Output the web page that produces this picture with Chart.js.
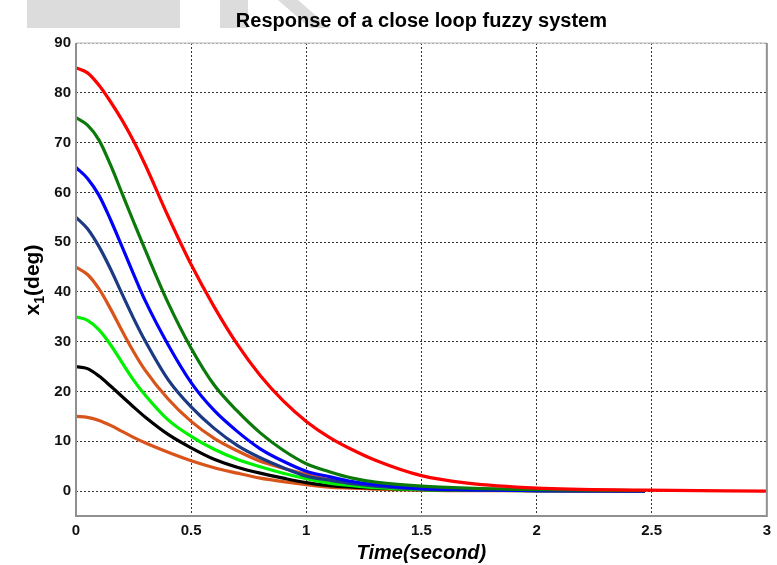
<!DOCTYPE html>
<html>
<head>
<meta charset="utf-8">
<script src="https://cdn.jsdelivr.net/npm/chart.js@4.4.0/dist/chart.umd.min.js"></script>
<style>
  html, body { margin: 0; padding: 0; background: #fff; }
  #wrap { width: 777px; height: 565px; position: relative; }
</style>
</head>
<body>
<div id="wrap"><canvas id="chart" width="777" height="565"></canvas></div>
<script>
// Closed loop fuzzy response - x1 vs time, one curve per initial angle

const timeSec = [0, 0.05, 0.1, 0.15, 0.2, 0.25, 0.3, 0.4, 0.5, 0.6, 0.7, 0.8, 0.9, 1.0, 1.1, 1.2, 1.3, 1.5, 1.7, 2.0, 2.47, 3.0];

const x1From85 = [85, 84, 81.5, 78.2, 74.5, 70.3, 65.6, 55.2, 45.5, 37, 29.5, 23.2, 18.1, 14, 10.8, 8.3, 6.2, 3.1, 1.6, 0.6, 0.2, 0];
const x1From75 = [75, 73.5, 70.5, 65.5, 59.8, 54.1, 48.5, 37.8, 28.7, 21.3, 16.1, 11.7, 8.2, 5.5, 3.9, 2.6, 1.8, 1, 0.6, 0.3, 0.1, null];
const x1From65 = [65, 62.8, 59.4, 54.5, 49.1, 43.6, 38.3, 29.4, 21.8, 16.2, 12, 8.5, 6, 4, 2.9, 1.9, 1.3, 0.5, 0.3, 0.1, 0, null];
const x1From55 = [55, 52.7, 49.1, 44.6, 39.6, 34.7, 30.2, 22.4, 16.9, 12.6, 9.2, 6.7, 4.7, 3, 2.2, 1.5, 1, 0.4, 0.2, 0.1, 0, null];
const x1From45 = [45, 43.5, 40.6, 36.6, 32.2, 28, 24.3, 18.5, 14, 10.6, 8.1, 6, 4.6, 3.4, 2.3, 1.6, 1.1, 0.5, 0.3, 0.1, 0, null];
const x1From35 = [35, 34.3, 32.4, 29.4, 25.8, 22.3, 19.3, 14.3, 11, 8.4, 6.4, 4.9, 3.6, 2.5, 1.6, 1.1, 0.7, 0.3, 0.2, 0.1, 0, null];
const x1From25 = [25, 24.6, 23.1, 21.1, 19, 16.9, 14.9, 11.4, 8.7, 6.4, 4.8, 3.6, 2.6, 1.7, 1.1, 0.8, 0.6, 0.3, 0.2, 0.1, 0, null];
const x1From15 = [15, 14.8, 14.2, 13.2, 12, 10.8, 9.7, 7.8, 6.1, 4.7, 3.6, 2.6, 1.9, 1.3, 0.8, 0.6, 0.4, 0.2, 0.1, 0.1, 0, null];

const seriesValues = [x1From85, x1From75, x1From65, x1From55, x1From45, x1From35, x1From25, x1From15];
const seriesColors = ['#ff0000', '#0b7a0b', '#0000ff', '#1c3a84', '#d9541a', '#00f000', '#000000', '#d9541a'];

const xTicks = [0, 0.5, 1, 1.5, 2, 2.5, 3];
const yTicks = [0, 10, 20, 30, 40, 50, 60, 70, 80, 90];

const titleText = 'Response of a close loop fuzzy system';
const xLabelText = 'Time(second)';

const AREA = { left: 76, right: 770, top: 43, bottom: 516 };

const datasets = seriesValues.map((vals, i) => ({
    data: vals.map((v, k) => ({ x: timeSec[k], y: v })),
    borderColor: seriesColors[i],
    borderWidth: 3.2,
    pointRadius: 0,
    fill: false,
    cubicInterpolationMode: 'monotone',
    spanGaps: false
}));

// Background watermark, frame, title and axis labels
const decorPlugin = {
    id: 'decor',
    beforeDraw(chart) {
        const ctx = chart.ctx;
        ctx.save();
        ctx.fillStyle = '#fff';
        ctx.fillRect(0, 0, chart.width, chart.height);
        ctx.fillStyle = '#dcdcdc';
        ctx.fillRect(27, 0, 153, 28);
        ctx.fillRect(220, 0, 28, 28);
        ctx.beginPath();
        ctx.moveTo(278, 0);
        ctx.lineTo(298, 0);
        ctx.lineTo(330, 28);
        ctx.lineTo(310, 28);
        ctx.closePath();
        ctx.fill();
        ctx.restore();
    },
    afterDraw(chart) {
        const ctx = chart.ctx;
        const a = chart.chartArea;
        ctx.save();
        // frame
        ctx.strokeStyle = '#d0d0d0';
        ctx.lineWidth = 1.5;
        ctx.beginPath();
        ctx.moveTo(a.left, a.top);
        ctx.lineTo(a.right, a.top);
        ctx.stroke();
        ctx.strokeStyle = '#909090';
        ctx.lineWidth = 2;
        ctx.beginPath();
        ctx.moveTo(a.right, a.top);
        ctx.lineTo(a.right, a.bottom);
        ctx.lineTo(a.left, a.bottom);
        ctx.lineTo(a.left, a.top);
        ctx.stroke();

        ctx.fillStyle = '#000';
        // title
        ctx.font = 'bold 20px "Liberation Sans", Arial, sans-serif';
        ctx.textAlign = 'center';
        ctx.textBaseline = 'alphabetic';
        ctx.fillText(titleText, (a.left + a.right) / 2, 27);

        // x label
        ctx.font = 'italic bold 20px "Liberation Sans", Arial, sans-serif';
        ctx.fillText(xLabelText, (a.left + a.right) / 2, 559);

        // y label with subscript
        ctx.translate(32, 280);
        ctx.rotate(-Math.PI / 2);
        const big = 'bold 21px "Liberation Sans", Arial, sans-serif';
        const small = 'bold 14px "Liberation Sans", Arial, sans-serif';
        ctx.textAlign = 'left';
        ctx.textBaseline = 'alphabetic';
        ctx.font = big;
        const wX = ctx.measureText('x').width;
        const wRest = ctx.measureText('(deg)').width;
        ctx.font = small;
        const w1 = ctx.measureText('1').width;
        let x0 = -(wX + w1 + wRest) / 2;
        const base = 7;
        ctx.font = big;
        ctx.fillText('x', x0, base);
        ctx.font = small;
        ctx.fillText('1', x0 + wX, base + 5);
        ctx.font = big;
        ctx.fillText('(deg)', x0 + wX + w1, base);
        ctx.restore();
    }
};

const tickFont = { family: '"Liberation Sans", Arial, sans-serif', size: 15, weight: 'bold' };

new Chart(document.getElementById('chart'), {
    type: 'line',
    data: { datasets },
    options: {
        responsive: false,
        animation: false,
        events: [],
        layout: {
            padding: { top: AREA.top, right: 777 - AREA.right, left: 0, bottom: 0 }
        },
        plugins: {
            legend: { display: false },
            tooltip: { enabled: false },
            title: { display: false }
        },
        scales: {
            x: {
                type: 'linear',
                min: 0,
                max: 3,
                afterBuildTicks: (scale) => { scale.ticks = xTicks.map(v => ({ value: v })); },
                afterFit: (scale) => { scale.height = 565 - AREA.bottom; },
                ticks: {
                    font: tickFont,
                    color: '#111',
                    padding: 6,
                    maxRotation: 0,
                    callback: (v) => String(v)
                },
                grid: { color: '#333', lineWidth: 1, drawTicks: false },
                border: { display: false, dash: [2, 2] }
            },
            y: {
                type: 'linear',
                min: -5,
                max: 90,
                afterBuildTicks: (scale) => { scale.ticks = yTicks.map(v => ({ value: v })); },
                afterFit: (scale) => { scale.width = AREA.left; },
                ticks: {
                    font: tickFont,
                    color: '#111',
                    padding: 5,
                    callback: (v) => String(v)
                },
                grid: { color: '#333', lineWidth: 1, drawTicks: false },
                border: { display: false, dash: [2, 2] }
            }
        }
    },
    plugins: [decorPlugin]
});
</script>
</body>
</html>
